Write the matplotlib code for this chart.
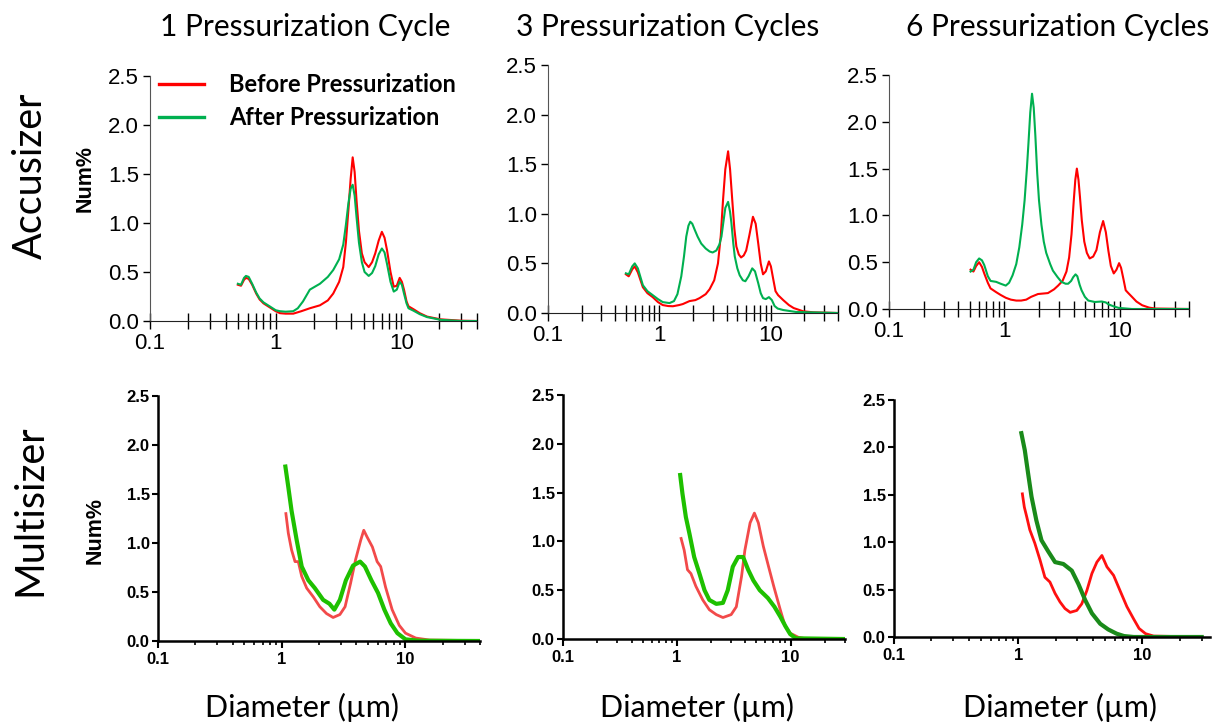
import matplotlib
matplotlib.use("Agg")
import matplotlib.pyplot as plt

# ---- Accusizer (top row), Before / After pressurization ----
acc1_x_before = [0.5, 0.53, 0.56, 0.58, 0.61, 0.65, 0.7, 0.745, 0.8, 0.895, 1.0, 1.08, 1.2, 1.38, 1.6, 1.87,
                 2.25, 2.6, 2.87, 3.2, 3.45, 3.62, 3.79, 3.95, 4.1, 4.25, 4.4, 4.6, 4.85, 5.1, 5.5, 5.85, 6.2,
                 6.6, 7.0, 7.35, 7.7, 8.2, 8.7, 9.2, 9.7, 10.1, 10.5, 11.0, 11.4, 12.5, 14, 16, 20.5, 30, 40]
acc1_y_before = [0.37, 0.36, 0.42, 0.44, 0.43, 0.37, 0.28, 0.22, 0.18, 0.14, 0.10, 0.08, 0.075, 0.075, 0.10,
                 0.13, 0.16, 0.21, 0.28, 0.40, 0.55, 0.80, 1.13, 1.45, 1.67, 1.52, 1.23, 0.92, 0.69, 0.60, 0.55,
                 0.60, 0.69, 0.82, 0.91, 0.85, 0.72, 0.50, 0.35, 0.36, 0.44, 0.40, 0.32, 0.20, 0.15, 0.12, 0.08,
                 0.045, 0.017, 0.003, 0.0]
acc1_x_after = [0.5, 0.53, 0.56, 0.58, 0.61, 0.65, 0.7, 0.745, 0.8, 0.895, 1.0, 1.08, 1.2, 1.38, 1.5, 1.65, 1.87,
                2.05, 2.25, 2.6, 2.87, 3.2, 3.45, 3.62, 3.79, 3.95, 4.1, 4.25, 4.4, 4.6, 4.85, 5.1, 5.5, 5.85,
                6.2, 6.6, 7.0, 7.35, 7.7, 8.2, 8.7, 9.2, 9.7, 10.1, 10.5, 11.0, 11.4, 12.5, 14, 16, 20.5, 30, 40]
acc1_y_after = [0.38, 0.37, 0.44, 0.46, 0.45, 0.38, 0.29, 0.23, 0.19, 0.15, 0.11, 0.10, 0.095, 0.10, 0.13, 0.20,
                0.32, 0.35, 0.38, 0.45, 0.52, 0.63, 0.78, 0.98, 1.20, 1.35, 1.39, 1.28, 1.06, 0.80, 0.60, 0.50,
                0.46, 0.49, 0.56, 0.68, 0.74, 0.70, 0.58, 0.40, 0.30, 0.32, 0.40, 0.37, 0.28, 0.18, 0.13, 0.105,
                0.07, 0.04, 0.012, 0.0, 0.0]

acc3_x_before = [0.5, 0.53, 0.57, 0.6, 0.64, 0.71, 0.78, 0.87, 0.97, 1.07, 1.2, 1.32, 1.5, 1.62, 1.86, 2.1, 2.29,
                 2.6, 2.82, 3.1, 3.35, 3.55, 3.72, 3.9, 4.13, 4.3, 4.5, 4.7, 4.9, 5.15, 5.4, 5.7, 6.0, 6.4, 6.9,
                 7.3, 7.7, 8.1, 8.5, 9.0, 9.6, 10.0, 10.5, 11.0, 11.6, 12.9, 14.5, 16, 19.5, 24, 40]
acc3_y_before = [0.39, 0.37, 0.44, 0.47, 0.41, 0.26, 0.20, 0.16, 0.11, 0.08, 0.07, 0.068, 0.08, 0.09, 0.12, 0.13,
                 0.15, 0.19, 0.24, 0.33, 0.50, 0.78, 1.14, 1.45, 1.63, 1.45, 1.14, 0.85, 0.67, 0.59, 0.56, 0.58,
                 0.63, 0.78, 0.97, 0.90, 0.70, 0.50, 0.39, 0.42, 0.52, 0.47, 0.34, 0.22, 0.18, 0.13, 0.08, 0.05,
                 0.017, 0.007, 0.0]
acc3_x_after = [0.5, 0.53, 0.57, 0.6, 0.64, 0.71, 0.78, 0.87, 0.97, 1.07, 1.23, 1.35, 1.45, 1.57, 1.66, 1.74, 1.82,
                1.89, 1.97, 2.07, 2.2, 2.37, 2.6, 2.82, 3.0, 3.24, 3.45, 3.6, 3.75, 3.9, 4.13, 4.3, 4.42, 4.6,
                4.74, 5.0, 5.25, 5.6, 5.9, 6.3, 6.8, 7.2, 7.7, 8.1, 8.5, 9.0, 9.6, 10.2, 10.8, 11.5, 12.9, 16.9, 40]
acc3_y_after = [0.40, 0.39, 0.47, 0.50, 0.45, 0.28, 0.22, 0.18, 0.14, 0.11, 0.10, 0.12, 0.19, 0.37, 0.57, 0.77,
                0.88, 0.92, 0.90, 0.84, 0.77, 0.70, 0.65, 0.62, 0.61, 0.63, 0.69, 0.77, 0.92, 1.06, 1.12, 1.02,
                0.91, 0.70, 0.57, 0.45, 0.38, 0.33, 0.32, 0.37, 0.45, 0.42, 0.30, 0.20, 0.15, 0.14, 0.16, 0.13,
                0.07, 0.045, 0.03, 0.01, 0.0]

acc6_x_before = [0.51, 0.54, 0.57, 0.605, 0.64, 0.67, 0.72, 0.76, 0.85, 0.93, 1.03, 1.14, 1.27, 1.4, 1.55, 1.71,
                 1.96, 2.39, 2.7, 2.93, 3.2, 3.46, 3.65, 3.83, 4.0, 4.13, 4.26, 4.4, 4.53, 4.7, 4.94, 5.2, 5.5,
                 5.9, 6.3, 6.75, 7.2, 7.6, 8.0, 8.4, 8.9, 9.4, 9.9, 10.3, 10.8, 11.3, 11.9, 12.8, 14, 15.7, 18,
                 20.4, 41]
acc6_y_before = [0.42, 0.40, 0.46, 0.50, 0.45, 0.38, 0.28, 0.22, 0.18, 0.15, 0.12, 0.10, 0.09, 0.09, 0.10, 0.13,
                 0.16, 0.17, 0.21, 0.25, 0.30, 0.40, 0.55, 0.80, 1.15, 1.38, 1.50, 1.38, 1.20, 0.95, 0.72, 0.60,
                 0.54, 0.56, 0.63, 0.82, 0.94, 0.82, 0.62, 0.46, 0.38, 0.42, 0.49, 0.44, 0.32, 0.20, 0.17, 0.13,
                 0.08, 0.04, 0.015, 0.005, 0.0]
acc6_x_after = [0.51, 0.54, 0.57, 0.605, 0.64, 0.67, 0.72, 0.76, 0.85, 0.93, 1.03, 1.1, 1.18, 1.27, 1.35, 1.43,
                1.5, 1.57, 1.62, 1.68, 1.74, 1.8, 1.86, 1.93, 2.0, 2.1, 2.2, 2.31, 2.5, 2.64, 2.9, 3.13, 3.4, 3.58,
                3.8, 3.96, 4.15, 4.3, 4.5, 4.68, 5.0, 5.35, 6.1, 7.0, 7.6, 8.0, 8.8, 9.8, 12.8, 41]
acc6_y_after = [0.40, 0.42, 0.50, 0.54, 0.52, 0.47, 0.35, 0.30, 0.29, 0.27, 0.25, 0.28, 0.36, 0.48, 0.66, 0.90,
                1.16, 1.50, 1.77, 2.10, 2.30, 2.15, 1.85, 1.45, 1.16, 0.90, 0.72, 0.60, 0.48, 0.41, 0.34, 0.29,
                0.27, 0.27, 0.30, 0.34, 0.37, 0.35, 0.26, 0.20, 0.13, 0.09, 0.075, 0.08, 0.07, 0.05, 0.03, 0.012,
                0.0, 0.0]

# ---- Multisizer (bottom row) ----
mul1_x_before = [1.08, 1.13, 1.2, 1.28, 1.36, 1.45, 1.59, 1.8, 2.03, 2.3, 2.6, 2.95, 3.25, 3.6, 3.95, 4.35, 4.6,
                 4.9, 5.4, 5.9, 6.3, 6.9, 7.8, 8.9, 10, 12.1, 15.6, 40]
mul1_y_before = [1.30, 1.10, 0.93, 0.81, 0.81, 0.66, 0.54, 0.45, 0.35, 0.28, 0.24, 0.27, 0.35, 0.59, 0.83, 1.03,
                 1.13, 1.06, 0.96, 0.81, 0.76, 0.55, 0.32, 0.16, 0.08, 0.03, 0.01, 0.003]
mul1_x_after = [1.07, 1.13, 1.2, 1.32, 1.45, 1.64, 1.85, 2.16, 2.43, 2.66, 2.95, 3.3, 3.77, 4.3, 4.7, 5.3, 6.0,
                6.75, 7.6, 8.6, 10, 12.7, 40]
mul1_y_after = [1.78, 1.57, 1.33, 1.03, 0.76, 0.62, 0.54, 0.42, 0.38, 0.32, 0.42, 0.62, 0.77, 0.81, 0.76, 0.62,
                0.49, 0.32, 0.18, 0.08, 0.017, 0.003, 0.0]

mul3_x_before = [1.09, 1.16, 1.24, 1.33, 1.47, 1.69, 1.93, 2.22, 2.54, 3.0, 3.33, 3.7, 3.96, 4.4, 4.8, 5.2, 5.75,
                 6.4, 7.1, 8.1, 8.95, 9.9, 11.7, 13.5, 30]
mul3_y_before = [1.03, 0.91, 0.71, 0.67, 0.54, 0.40, 0.30, 0.25, 0.22, 0.25, 0.33, 0.64, 0.91, 1.19, 1.29, 1.19,
                 0.95, 0.74, 0.54, 0.30, 0.13, 0.06, 0.017, 0.003, 0.0]
mul3_x_after = [1.07, 1.12, 1.2, 1.29, 1.42, 1.58, 1.75, 1.93, 2.22, 2.54, 2.8, 3.1, 3.45, 3.82, 4.23, 4.7, 5.35,
                6.3, 7.2, 8.1, 9.0, 9.9, 11.1, 29]
mul3_y_after = [1.68, 1.49, 1.25, 1.08, 0.84, 0.67, 0.50, 0.40, 0.36, 0.37, 0.50, 0.74, 0.84, 0.84, 0.71, 0.60,
                0.50, 0.42, 0.33, 0.23, 0.13, 0.05, 0.007, 0.0]

mul6_x_before = [1.08, 1.12, 1.17, 1.24, 1.36, 1.5, 1.64, 1.8, 1.98, 2.17, 2.38, 2.62, 2.96, 3.25, 3.57, 3.92,
                 4.3, 4.72, 5.18, 5.86, 6.6, 7.5, 8.5, 9.4, 10.6, 12.3, 30]
mul6_y_before = [1.51, 1.37, 1.27, 1.13, 0.99, 0.81, 0.63, 0.58, 0.46, 0.37, 0.30, 0.26, 0.28, 0.35, 0.49, 0.67,
                 0.79, 0.86, 0.74, 0.65, 0.49, 0.32, 0.19, 0.09, 0.035, 0.01, 0.0]
mul6_x_after = [1.06, 1.13, 1.2, 1.28, 1.4, 1.54, 1.75, 1.98, 2.31, 2.7, 3.05, 3.46, 3.92, 4.57, 5.3, 6.2, 7.1,
                8.5, 30]
mul6_y_after = [2.15, 1.97, 1.73, 1.48, 1.23, 1.02, 0.90, 0.79, 0.77, 0.70, 0.56, 0.39, 0.25, 0.14, 0.08, 0.035,
                0.01, 0.0, 0.0]

titles = ["1 Pressurization Cycle", "3 Pressurization Cycles", "6 Pressurization Cycles"]
rows = ["Accusizer", "Multisizer"]
labels = ["Before Pressurization", "After Pressurization"]
yticks = [0.0, 0.5, 1.0, 1.5, 2.0, 2.5]
xticks = [0.1, 1, 10]
xtick_labels = ["0.1", "1", "10"]

W, H = 1214, 724
fig = plt.figure(figsize=(W / 100, H / 100), dpi=100)


def box(l, t, r, b):
    return [l / W, 1 - b / H, (r - l) / W, (b - t) / H]


top_boxes = [box(150, 76, 477, 321), box(548, 65, 838, 313), box(889, 75, 1189, 309)]
bot_boxes = [box(158, 396, 480, 641), box(563, 395, 845, 639), box(894, 400, 1210, 637)]
top_xmax = [40, 40, 40]
bot_xmax = [40, 30, 35]

top_data = [(acc1_x_before, acc1_y_before, acc1_x_after, acc1_y_after),
            (acc3_x_before, acc3_y_before, acc3_x_after, acc3_y_after),
            (acc6_x_before, acc6_y_before, acc6_x_after, acc6_y_after)]
bot_data = [(mul1_x_before, mul1_y_before, mul1_x_after, mul1_y_after),
            (mul3_x_before, mul3_y_before, mul3_x_after, mul3_y_after),
            (mul6_x_before, mul6_y_before, mul6_x_after, mul6_y_after)]
bot_colors = [("#f24a4a", "#1ec000"), ("#f24a4a", "#1ec000"), ("#ff1010", "#1a8a1a")]

tick_font = "Liberation Sans"
title_font = "Lato"

for i in range(3):
    # top row
    ax = fig.add_axes(top_boxes[i])
    xb, yb, xa, ya = top_data[i]
    ax.plot(xb, yb, color="#ff0000", lw=1.5, label=labels[0])
    ax.plot(xa, ya, color="#00b050", lw=1.5, label=labels[1])
    ax.set_xscale("log")
    ax.set_xlim(0.1, top_xmax[i])
    ax.set_ylim(0, 2.5)
    ax.set_yticks(yticks)
    ax.set_yticklabels([f"{v:.1f}" for v in yticks], fontsize=16, family=tick_font)
    ax.set_xticks(xticks)
    ax.set_xticklabels(xtick_labels, fontsize=16, family=tick_font)
    ax.tick_params(axis="x", which="both", direction="inout", length=11, width=1, pad=3)
    ax.tick_params(axis="y", direction="out", length=5, width=1, pad=3)
    for s in ["top", "right"]:
        ax.spines[s].set_visible(False)
    ax.spines["left"].set_color("#555555")
    ax.spines["bottom"].set_color("#222222")
    ax.patch.set_alpha(0)
    if i == 0:
        leg = ax.legend(loc="upper left", bbox_to_anchor=(159 / W, 1 - 73 / H), bbox_transform=fig.transFigure,
                        frameon=False, borderpad=0, borderaxespad=0, handlelength=1.9, handletextpad=1.05,
                        labelspacing=0.44, prop={"family": title_font, "weight": "bold", "size": 17})
        for ln in leg.get_lines():
            ln.set_linewidth(2.4)
    # bottom row
    ax = fig.add_axes(bot_boxes[i])
    xb, yb, xa, ya = bot_data[i]
    cb, ca = bot_colors[i]
    ax.plot(xb, yb, color=cb, lw=2.0)
    ax.plot(xa, ya, color=ca, lw=3.0)
    ax.set_xscale("log")
    ax.set_xlim(0.1, bot_xmax[i])
    ax.set_ylim(0, 2.5)
    ax.set_yticks(yticks)
    ax.set_yticklabels([f"{v:.1f}" for v in yticks], fontsize=12, family=tick_font, fontweight="bold")
    ax.set_xticks(xticks)
    ax.set_xticklabels(xtick_labels, fontsize=12, family=tick_font, fontweight="bold")
    ax.tick_params(axis="x", which="major", direction="out", length=5, width=1.5, pad=3)
    ax.tick_params(axis="x", which="minor", direction="out", length=3, width=1.2)
    ax.tick_params(axis="y", direction="out", length=4, width=1.5, pad=2)
    for s in ["top", "right"]:
        ax.spines[s].set_visible(False)
    ax.spines["left"].set_linewidth(1.8)
    ax.spines["bottom"].set_linewidth(1.8)
    ax.patch.set_alpha(0)

# y labels
fig.text(85 / W, 1 - 179 / H, "Num%", rotation=90, ha="center", va="center", fontsize=15.5,
         fontweight="bold", family=tick_font)
fig.text(95 / W, 1 - 530 / H, "Num%", rotation=90, ha="center", va="center", fontsize=15.5,
         fontweight="bold", family=tick_font)

# column titles and axis labels
title_x = [305, 668, 1058]
for i in range(3):
    fig.text(title_x[i] / W, 1 - 27 / H, titles[i], ha="center", va="center", fontsize=21.5, family=title_font)
diam_x = [302, 697, 1060]
for x in diam_x:
    fig.text(x / W, 1 - 707 / H, "Diameter (µm)", ha="center", va="center", fontsize=22, family=title_font)

fig.text(30 / W, 1 - 176 / H, rows[0], rotation=90, ha="center", va="center", fontsize=28.5, family=title_font)
fig.text(30 / W, 1 - 510 / H, rows[1], rotation=90, ha="center", va="center", fontsize=28.5, family=title_font)

fig.savefig("out.png", dpi=100)
